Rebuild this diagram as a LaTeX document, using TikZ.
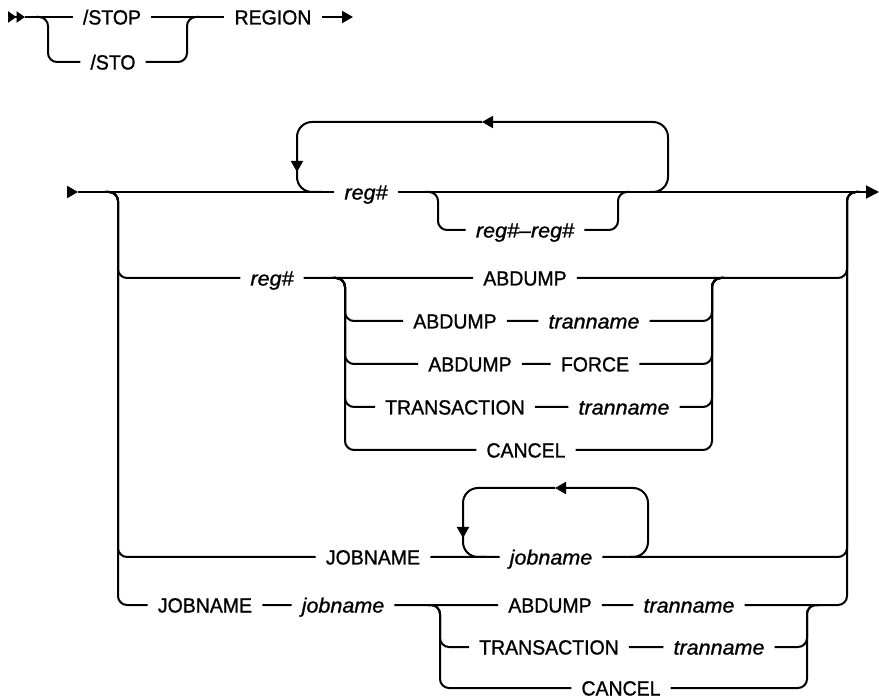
\documentclass[tikz,border=0pt]{standalone}
\usepackage{fontspec}
\setmainfont{Liberation Sans}[FakeBold=1.1,
  UprightFeatures={FakeStretch=0.95}, ItalicFeatures={FakeStretch=1.05}]
\usetikzlibrary{arrows.meta}

\begin{document}
\begin{tikzpicture}[x=1pt, y=-1pt,
    rail/.style={line width=2pt, rounded corners=9pt},
    loop/.style={line width=2pt, rounded corners=15pt},
    tip/.style={-{Triangle[length=11pt,width=12pt]}},
    endtip/.style={-{Triangle[length=13pt,width=13pt]}},
    kw/.style={inner xsep=10pt, inner ysep=0pt, text height=15pt, text depth=0pt,
               font=\fontsize{20.5}{24}\selectfont},
    var/.style={kw, font=\fontsize{20.5}{24}\selectfont\itshape},
  ]
  \useasboundingbox (0,0) rectangle (879,700);

  % first statement
  \coordinate (go) at (8,17);
  \coordinate (go2) at (25,17);
  \node[kw] (stop) at (112,17) {/STOP};
  \node[kw] (sto) at (113,62) {/STO};
  \node[kw] (region) at (273,17) {REGION};
  \coordinate (out) at (353,17);

  \draw[line width=2pt, -{Triangle[length=8.5pt,width=11pt]Triangle[length=8.5pt,width=11pt]}] (go) -- (go2);
  \draw[rail] (go2) -- (stop) -- (region);
  \draw[rail, tip] (region) -- (out);
  \draw[rail] (36,17) -| (48,62) -- (sto);
  \draw[rail] (sto) -| (187,17) -- (199,17);

  % main diagram
  \coordinate (in) at (67,192);
  \coordinate (in2) at (78,192);
  \coordinate (fin) at (879,192);
  \node[var] (reg1) at (366,192) {reg\#};
  \node[var] (range) at (525,230) {reg\#–reg\#};

  \draw[line width=2pt, tip] (in) -- (in2);
  \draw[rail] (in2) -- (reg1);
  \draw[rail, endtip] (reg1) -- (fin);

  % repeat loop over reg#
  \draw[loop, tip] (650,192) -| (668,122) -- (482,122);
  \draw[loop, tip] (482,122) -| (297,172);
  \draw[loop] (297,160) |- (322,192);
  \draw[rail] (425,192) -| (438,230) -- (range);
  \draw[rail] (range) -| (618,192) -- (630,192);

  % reg# with options
  \node[var] (reg2) at (272,278) {reg\#};
  \node[kw] (abd1) at (525,278) {ABDUMP};
  \node[kw] (abd2) at (455,321) {ABDUMP};
  \node[var] (tran1) at (594,321) {tranname};
  \node[kw] (abd3) at (470,364) {ABDUMP};
  \node[kw] (force) at (595,364) {FORCE};
  \node[kw] (trans1) at (455,407) {TRANSACTION};
  \node[var] (tran2) at (624,407) {tranname};
  \node[kw] (cancel1) at (526,450) {CANCEL};

  \draw[rail] (105,192) -| (118,278) -- (reg2) -- (abd1) -| (847,192) -- (859,192);
  \draw[rail] (333,278) -| (345,321) -- (abd2) -- (tran1) -| (712,278) -- (724,278);
  \draw[rail] (333,278) -| (345,364) -- (abd3) -- (force) -| (712,278) -- (724,278);
  \draw[rail] (333,278) -| (345,407) -- (trans1) -- (tran2) -| (712,278) -- (724,278);
  \draw[rail] (333,278) -| (345,450) -- (cancel1) -| (712,278) -- (724,278);

  % JOBNAME with repeat
  \node[kw] (job1) at (373,557) {JOBNAME};
  \node[var] (jn1) at (551,557) {jobname};
  \draw[rail] (105,192) -| (118,557) -- (job1) -- (jn1) -| (847,192) -- (859,192);
  \draw[loop, tip] (630,557) -| (648,488) -- (555,488);
  \draw[loop, tip] (555,488) -| (463,538);
  \draw[loop] (463,526) |- (486,557);

  % JOBNAME jobname with options
  \node[kw] (job2) at (205,605) {JOBNAME};
  \node[var] (jn2) at (343,605) {jobname};
  \node[kw] (abd4) at (550,605) {ABDUMP};
  \node[var] (tran3) at (689,605) {tranname};
  \node[kw] (trans2) at (549,647) {TRANSACTION};
  \node[var] (tran4) at (719,647) {tranname};
  \node[kw] (cancel2) at (621,688) {CANCEL};

  \draw[rail] (105,192) -| (118,605) -- (job2) -- (jn2) -- (abd4) -- (tran3) -| (847,192) -- (859,192);
  \draw[rail] (428,605) -| (440,647) -- (trans2) -- (tran4) -| (807,605) -- (819,605);
  \draw[rail] (428,605) -| (440,688) -- (cancel2) -| (807,605) -- (819,605);
\end{tikzpicture}
\end{document}
